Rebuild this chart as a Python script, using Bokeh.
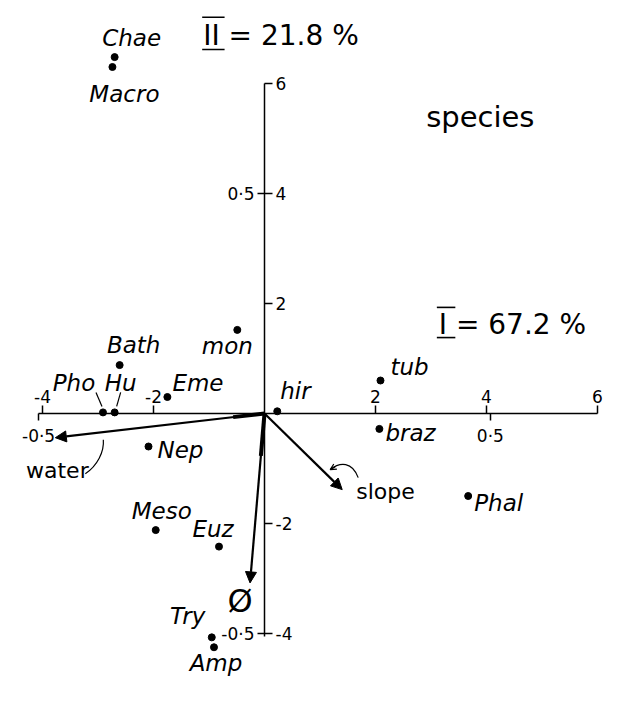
from bokeh.plotting import figure
from bokeh.models import LinearAxis, Range1d, FixedTicker, Arrow, NormalHead, OpenHead, ColumnDataSource
from bokeh.core.properties import value
from bokeh.embed import file_html
from bokeh.resources import INLINE

# ---------------- data ----------------
species = ["Chae", "Macro", "Bath", "mon", "Eme", "Pho", "Hu", "hir", "Nep",
           "tub", "braz", "Phal", "Meso", "Euz", "Try", "Amp"]
axis_I = [-2.70, -2.74, -2.61, -0.49, -1.75, -2.91, -2.70, 0.23, -2.09,
          2.09, 2.07, 3.67, -1.96, -0.82, -0.95, -0.91]
axis_II = [6.48, 6.30, 0.88, 1.52, 0.30, 0.02, 0.02, 0.04, -0.60,
           0.60, -0.28, -1.50, -2.12, -2.42, -4.07, -4.25]

env_vars = ["water", "slope", "Ø"]
env_I = [-0.463, 0.172, -0.032]
env_II = [-0.055, -0.173, -0.385]

species_ticks = [-4, -2, 2, 4, 6]
species_tick_labels = ["-4", "-2", "2", "4", "6"]
env_ticks = [-0.5, 0.5]
env_tick_labels = ["-0·5", "0·5"]
eigen_I = "67.2"
eigen_II = "21.8"
panel_title = "species"

# ---------------- layout / style ----------------
W, H = 604, 686
PX_X, PX_Y = 55.5, 55.0          # pixels per species unit
OX, OY = 264, 413                # origin in figure pixels
ENV_X, ENV_Y = 8.14, 8.0         # species units per env unit
BASE_FIX = -0.3                  # baseline correction (fraction of font size)

x_start, x_end = -OX / PX_X, (W - OX) / PX_X
y_end, y_start = OY / PX_Y, -(H - OY) / PX_Y


def pg(px, py):
    """position measured on the reference picture -> data coords"""
    return (px - 273) / 57.0, (421 - py) / 56.5


def off(x, y, dx, dy):
    return x + dx / PX_X, y - dy / PX_Y


p = figure(width=W, height=H, x_range=Range1d(x_start, x_end), y_range=Range1d(y_start, y_end),
           x_axis_location=None, y_axis_location=None, toolbar_location=None,
           output_backend="svg", min_border=0, outline_line_color=None)
p.extra_x_ranges = {"envx": Range1d(x_start / ENV_X, x_end / ENV_X)}
p.extra_y_ranges = {"envy": Range1d(y_start / ENV_Y, y_end / ENV_Y)}
p.grid.visible = False

FONT = "DejaVu Sans"


def style_axis(ax, ticks, tick_len, overrides=None, line=True, bounds=None):
    ax.ticker = FixedTicker(ticks=ticks, minor_ticks=[])
    ax.major_tick_in = 0
    ax.major_tick_out = tick_len
    ax.minor_tick_in = 0
    ax.minor_tick_out = 0
    ax.major_tick_line_width = 1.5
    ax.major_tick_line_color = "black"
    ax.axis_line_width = 1.5
    ax.axis_line_color = "black" if line else None
    ax.major_label_text_font = FONT
    ax.major_label_text_font_size = "17px"
    ax.major_label_text_color = "black"
    ax.major_label_standoff = 3
    ax.fixed_location = 0
    if bounds is not None:
        ax.bounds = bounds
    if overrides:
        ax.major_label_overrides = overrides


sp_over = {t: l for t, l in zip(species_ticks, species_tick_labels)}
env_over = {t: l for t, l in zip(env_ticks, env_tick_labels)}

ax_x = LinearAxis()
style_axis(ax_x, species_ticks, 8, overrides=sp_over, bounds=(-4.07, 6))
p.add_layout(ax_x, "above")

ax_xe = LinearAxis(x_range_name="envx")
style_axis(ax_xe, env_ticks, 7, overrides=env_over, line=False, bounds=(-0.5, 0.5))
ax_xe.major_label_standoff = 5
p.add_layout(ax_xe, "below")

ax_y = LinearAxis()
style_axis(ax_y, species_ticks, 8, overrides=sp_over, bounds=(-4.05, 6))
p.add_layout(ax_y, "right")

ax_ye = LinearAxis(y_range_name="envy")
style_axis(ax_ye, env_ticks, 7, overrides=env_over, line=False, bounds=(-0.5, 0.5))
p.add_layout(ax_ye, "left")

# species points
LBL = 23
label_style = {
    "Chae": (17, -12, "center"), "Macro": (12, 34, "center"), "Bath": (14, -13, "center"),
    "mon": (-10, 23, "center"), "Eme": (5, -7, "left"), "Pho": (-29, -23, "center"),
    "Hu": (6, -23, "center"), "hir": (3, -13, "left"), "Nep": (9, 10, "left"),
    "tub": (10, -7, "left"), "braz": (6, 11, "left"), "Phal": (6, 14, "left"),
    "Meso": (6, -12, "center"), "Euz": (-6, -11, "center"), "Try": (-24, -14, "center"),
    "Amp": (2, 23, "center"),
}
src = ColumnDataSource(dict(
    x=axis_I, y=axis_II, name=species,
    dx=[label_style[s][0] for s in species],
    dy=[label_style[s][1] + BASE_FIX * LBL for s in species],
    al=[label_style[s][2] for s in species],
))
p.scatter("x", "y", source=src, size=7, color="black")
p.text("x", "y", text="name", source=src, x_offset="dx", y_offset="dy", text_align="al",
       text_baseline="alphabetic", text_font=value(FONT), text_font_style="italic",
       text_font_size=f"{LBL}px", text_color="black")

# leaders for Pho / Hu
i_pho, i_hu = species.index("Pho"), species.index("Hu")
lx0, ly0 = off(axis_I[i_pho], axis_II[i_pho], -7, -20)
lx1, ly1 = off(axis_I[i_pho], axis_II[i_pho], -1, -6)
hx0, hy0 = off(axis_I[i_hu], axis_II[i_hu], 6, -20)
hx1, hy1 = off(axis_I[i_hu], axis_II[i_hu], 2, -6)
p.segment([lx0, hx0], [ly0, hy0], [lx1, hx1], [ly1, hy1], line_color="black", line_width=1.2)

# environmental arrows
for ex, ey in zip(env_I, env_II):
    p.add_layout(Arrow(end=NormalHead(size=11, fill_color="black", line_color="black", line_width=1),
                       x_start=0, y_start=0, x_end=ex, y_end=ey, line_width=2.2, line_color="black",
                       x_range_name="envx", y_range_name="envy"))

# thicker start of the water and Ø vectors (tapered look)
taper = {"water": 0.15, "slope": 0.0, "Ø": 0.25}
tx1 = [ex * taper[n] for n, ex in zip(env_vars, env_I) if taper[n] > 0]
ty1 = [ey * taper[n] for n, ey in zip(env_vars, env_II) if taper[n] > 0]
p.segment([0] * len(tx1), [0] * len(ty1), tx1, ty1, line_color="black", line_width=4,
          x_range_name="envx", y_range_name="envy")

env_style = {"water": (2, 39 + BASE_FIX * 22, "center", "alphabetic", "22px"),
             "slope": (14, 8 + BASE_FIX * 22, "left", "alphabetic", "22px"),
             "Ø": (-10, 18, "center", "middle", "32px")}
for name, ex, ey in zip(env_vars, env_I, env_II):
    dx, dy, al, bl, fs = env_style[name]
    p.text([ex], [ey], text=[name], x_offset=dx, y_offset=dy, text_align=al, text_baseline=bl,
           text_font=value(FONT), text_font_size=fs, text_color="black",
           x_range_name="envx", y_range_name="envy")

# curved leaders
wx, wy = env_I[0] * ENV_X, env_II[0] * ENV_Y
a = off(wx, wy, 30, 36); b = off(wx, wy, 48, 2); c0 = off(wx, wy, 42, 28); c1 = off(wx, wy, 49, 14)
p.bezier(x0=[a[0]], y0=[a[1]], x1=[b[0]], y1=[b[1]], cx0=[c0[0]], cy0=[c0[1]], cx1=[c1[0]], cy1=[c1[1]],
         line_color="black", line_width=1.2)
sx, sy = env_I[1] * ENV_X, env_II[1] * ENV_Y
a = off(sx, sy, 16, -12); b = off(sx, sy, -12, -20); c0 = off(sx, sy, 10, -28); c1 = off(sx, sy, -2, -28)
p.bezier(x0=[a[0]], y0=[a[1]], x1=[b[0]], y1=[b[1]], cx0=[c0[0]], cy0=[c0[1]], cx1=[c1[0]], cy1=[c1[1]],
         line_color="black", line_width=1.2)
h0 = off(sx, sy, -7, -23)
p.add_layout(Arrow(end=OpenHead(size=6, line_width=1.2), x_start=h0[0], y_start=h0[1], x_end=b[0], y_end=b[1],
                   line_width=1.2))

# titles
for txt, (rx, ry), fs in [(f"II = {eigen_II} %", (210, 41), 28),
                          (f"I =  {eigen_I} %", (452, 338), 28),
                          (panel_title, (439, 125), 29)]:
    tx, ty = pg(rx, ry)
    p.text([tx], [ty], text=[txt], text_align="left", text_baseline="alphabetic",
           y_offset=BASE_FIX * fs, text_font=value(FONT), text_font_size=f"{fs}px", text_color="black")

# over/under bars for roman numerals
bars = [((209, 232), 14), ((209, 232), 47), ((450, 469), 312), ((450, 469), 343)]
bx0, by0, bx1, by1 = [], [], [], []
for (xa, xb), yy in bars:
    u = pg(xa, yy); v = pg(xb, yy)
    bx0.append(u[0]); by0.append(u[1]); bx1.append(v[0]); by1.append(v[1])
p.segment(bx0, by0, bx1, by1, line_color="black", line_width=1.6)

open("out.html", "w").write(file_html(p, INLINE))
